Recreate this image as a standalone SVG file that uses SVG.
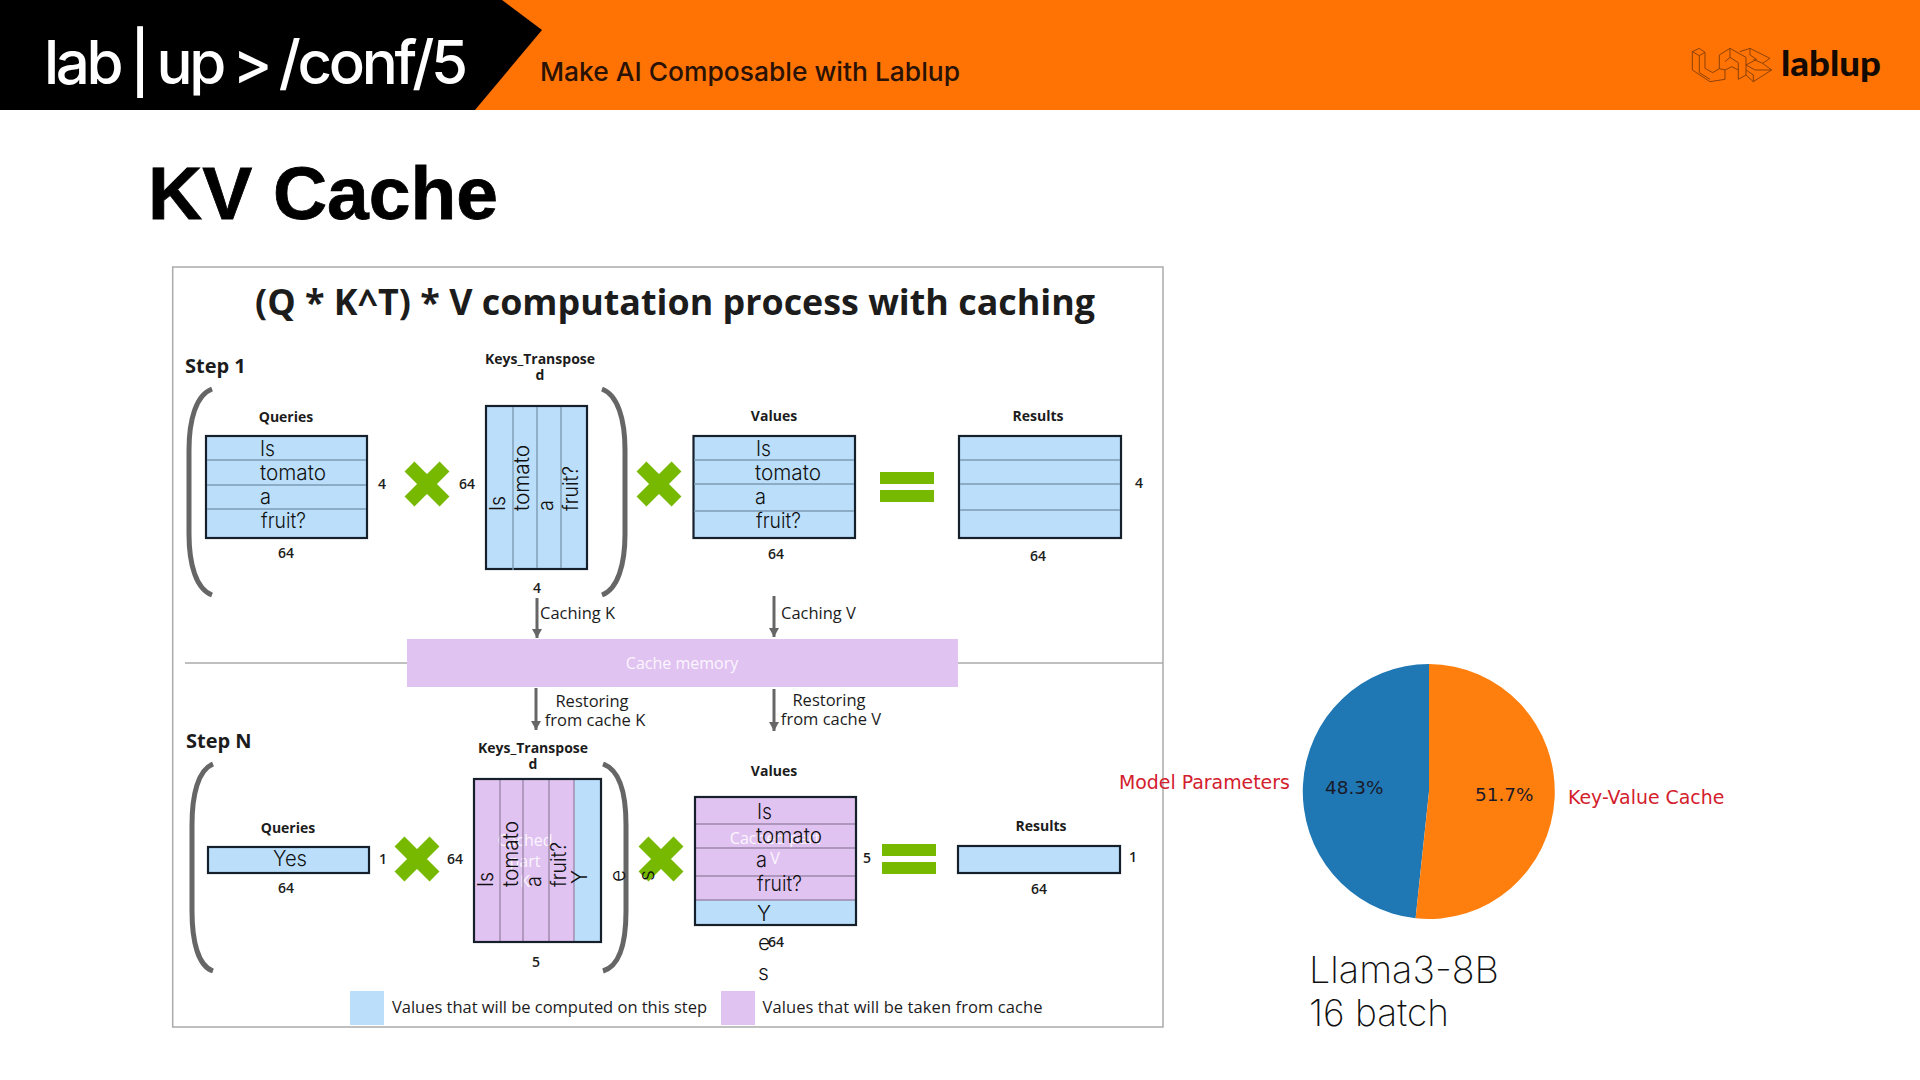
<svg xmlns="http://www.w3.org/2000/svg" width="1920" height="1080" viewBox="0 0 1920 1080">
<style>
text{font-family:"Open Sans","Noto Sans",sans-serif;fill:#1c1c1c}
.h{font-weight:700;font-size:14px;text-anchor:middle}
.d{font-weight:600;font-size:14px;text-anchor:middle}
.l{font-size:16.5px}
.c{font-size:16.5px;text-anchor:middle}
.t{font-family:Inter,"Liberation Sans",sans-serif;font-weight:300;font-size:21px;fill:#111}
.w{font-size:16px;fill:#fbf6fd;text-anchor:middle}
.box{stroke:#15202b;stroke-width:2.2}
.blue{fill:#bbdffb}
.pur{fill:#e1c3f2}
.row{stroke:#7d9bb3;stroke-width:1.4}
.prow{stroke:#9d89ab;stroke-width:1.4}
.br{fill:none;stroke:#666;stroke-width:5}
.eq{fill:#76b900}
.arr{stroke:#666;stroke-width:3;fill:none;marker-end:url(#ah)}
.frame{fill:#fff;stroke:#aaa;stroke-width:1.5}
.rule{stroke:#aaa;stroke-width:1.5}
.pl{font-family:"DejaVu Sans",sans-serif;font-size:18.9px;fill:#d3202c}
.pv{font-family:"DejaVu Sans",sans-serif;font-size:18.4px;fill:#1a1a28}
.big{font-family:Inter,"Liberation Sans",sans-serif;font-weight:200;font-size:37px;fill:#111}
</style>
<defs>
<marker id="ah" markerUnits="userSpaceOnUse" markerWidth="12" markerHeight="10" refX="9" refY="5" orient="auto"><path d="M0 0L9 5L0 10Z" fill="#666"/></marker>
<g id="cross"><path d="M-17.5-17.5L17.5 17.5M-17.5 17.5L17.5-17.5" stroke="#76b900" stroke-width="14" fill="none"/></g>
<g id="eq"><rect class="eq" x="0" y="0" width="54" height="12"/><rect class="eq" x="0" y="18" width="54" height="12"/></g>
</defs>
<rect width="1920" height="1080" fill="#fff"/>

<g id="header">
<rect width="1920" height="110" fill="#ff7204"/>
<path d="M0 0H502L542 30L475 110H0Z" fill="#000"/>
<text x="44" y="84" style="font-family:Inter,'Liberation Sans',sans-serif;font-size:60px;font-weight:500;letter-spacing:-3.4px;word-spacing:-3px;fill:#fff">lab | up &gt; /conf/5</text>
<text x="540" y="81" textLength="420" lengthAdjust="spacingAndGlyphs" style="font-family:Inter,'Liberation Sans',sans-serif;font-size:26px;font-weight:500;fill:#2a1206">Make AI Composable with Lablup</text>
</g>
<g id="logo">
<g transform="translate(1660,20) scale(.3333)" fill="none" stroke="#7c3a08" stroke-width="2.6" stroke-linejoin="round">
<path d="M97 95L118 85L135 97V145L158 158L178 146V105L210 85L258 112V165L235 178V150L215 140L195 150V178L150 185L97 150Z"/>
<path d="M97 95L118 107V158L150 178M118 107L135 97M178 146L195 150M210 85V112L235 128V150M195 125L210 112"/>
<path d="M240 95L270 85L330 115L308 130L335 150L280 185L258 165M270 85V105L290 118L258 135M308 130L280 118M258 135L285 150L335 150M280 185V165L258 150"/>
</g>
<text x="1781" y="76" textLength="100" lengthAdjust="spacingAndGlyphs" style="font-family:Lato,'Noto Sans',sans-serif;font-size:35px;font-weight:900;fill:#140a04">lablup</text>
</g>

<g id="title"><text x="148" y="219" textLength="350" lengthAdjust="spacingAndGlyphs" style="font-family:'Liberation Sans',Arial,sans-serif;font-size:75px;font-weight:700;fill:#000;stroke:#000;stroke-width:.8">KV Cache</text></g>

<g id="figure-frame">
<rect class="frame" x="172.7" y="267" width="990.3" height="760"/>
<text x="675" y="315" text-anchor="middle" textLength="840" lengthAdjust="spacingAndGlyphs" style="font-size:36px;font-weight:700">(Q * K^T) * V computation process with caching</text>
<path class="rule" d="M185 663H407M957 663H1163"/>
</g>

<g id="step1-label"><text x="185" y="373" style="font-size:20px;font-weight:700">Step 1</text></g>
<g id="step1-brackets">
<path class="br" d="M212 389C196 395 189 420 189 450V534C189 564 196 589 212 595"/>
<path class="br" d="M602 389C618 395 625 420 625 450V534C625 564 618 589 602 595"/>
</g>

<g id="queries-1">
<text class="h" x="286" y="422">Queries</text>
<rect class="blue box" x="206" y="436" width="161" height="102"/>
<path class="row" d="M207 460H366M207 485H366M207 509H366"/>
<text class="t" x="260" y="456" textLength="15" lengthAdjust="spacingAndGlyphs">Is</text><text class="t" x="260" y="480" textLength="66" lengthAdjust="spacingAndGlyphs">tomato</text><text class="t" x="260" y="504" textLength="11" lengthAdjust="spacingAndGlyphs">a</text><text class="t" x="261" y="528" textLength="45" lengthAdjust="spacingAndGlyphs">fruit?</text>
<text class="d" x="286" y="558">64</text><text class="d" x="382" y="489">4</text>
</g>
<g id="times-1"><use href="#cross" x="427" y="484"/></g>
<g id="keys-1">
<text class="h" x="540" y="364">Keys_Transpose</text><text class="h" x="540" y="380">d</text>
<text class="d" x="467" y="489">64</text>
<rect class="blue box" x="486" y="406" width="101" height="163"/>
<path class="row" d="M513 407V570M537 407V568M561 407V568"/>
<text class="t" transform="translate(505,511) rotate(-90)" textLength="15" lengthAdjust="spacingAndGlyphs">Is</text>
<text class="t" transform="translate(529,511) rotate(-90)" textLength="66" lengthAdjust="spacingAndGlyphs">tomato</text>
<text class="t" transform="translate(553,511) rotate(-90)" textLength="11" lengthAdjust="spacingAndGlyphs">a</text>
<text class="t" transform="translate(578,511) rotate(-90)" textLength="45" lengthAdjust="spacingAndGlyphs">fruit?</text>
<text class="d" x="537" y="593">4</text>
</g>
<g id="times-2"><use href="#cross" x="659" y="484"/></g>
<g id="values-1">
<text class="h" x="774" y="421">Values</text>
<rect class="blue box" x="693.5" y="436" width="161.5" height="102"/>
<path class="row" d="M694 460H854M694 484H854M694 511H854"/>
<text class="t" x="756" y="456" textLength="15" lengthAdjust="spacingAndGlyphs">Is</text><text class="t" x="755" y="480" textLength="66" lengthAdjust="spacingAndGlyphs">tomato</text><text class="t" x="755" y="504" textLength="11" lengthAdjust="spacingAndGlyphs">a</text><text class="t" x="756" y="528" textLength="45" lengthAdjust="spacingAndGlyphs">fruit?</text>
<text class="d" x="776" y="559">64</text>
</g>
<g id="equals-1"><use href="#eq" x="880" y="472"/></g>
<g id="results-1">
<text class="h" x="1038" y="421">Results</text>
<rect class="blue box" x="959" y="436" width="162" height="102"/>
<path class="row" d="M960 460H1120M960 484H1120M960 510H1120"/>
<text class="d" x="1038" y="561">64</text><text class="d" x="1139" y="488">4</text>
</g>

<g id="cache-memory">
<rect class="pur" x="407" y="639" width="551" height="48"/>
<text class="w" x="682" y="669">Cache memory</text>
</g>

<g id="connectors">
<path class="arr" d="M537 598V638"/>
<path class="arr" d="M774 596V637"/>
<path class="arr" d="M536 688V730"/>
<path class="arr" d="M774 689V731"/>
</g>
<g id="connector-labels">
<text class="l" x="540" y="619">Caching K</text>
<text class="l" x="781" y="619">Caching V</text>
<text class="c" x="592" y="707">Restoring</text><text class="c" x="595" y="726">from cache K</text>
<text class="c" x="829" y="706">Restoring</text><text class="c" x="831" y="725">from cache V</text>
</g>

<g id="stepN-label"><text x="186" y="748" style="font-size:20px;font-weight:700">Step N</text></g>
<g id="stepN-brackets">
<path class="br" d="M213 764C198 770 192 795 192 825V911C192 941 198 966 213 971"/>
<path class="br" d="M603 764C620 770 626 795 626 825V911C626 941 620 966 603 971"/>
</g>
<g id="queries-n">
<text class="h" x="288" y="833">Queries</text>
<rect class="blue box" x="208" y="847" width="161" height="26"/>
<text class="t" x="273" y="866" textLength="34" lengthAdjust="spacingAndGlyphs">Yes</text>
<text class="d" x="286" y="893">64</text><text class="d" x="383" y="864">1</text>
</g>
<g id="times-3"><use href="#cross" x="417" y="859"/></g>
<g id="times-4"><use href="#cross" x="661" y="859"/></g>
<g id="keys-n">
<text class="h" x="533" y="753">Keys_Transpose</text><text class="h" x="533" y="769">d</text>
<text class="d" x="455" y="864">64</text>
<rect class="pur" x="474" y="779" width="100" height="163"/>
<rect class="blue" x="574" y="779" width="27" height="163"/>
<text class="w" x="525" y="846">Cached</text><text class="w" x="525" y="867">part</text><text class="w" x="525" y="887">K</text>
<path class="prow" d="M500 780V941M523 780V941M549 780V941M574 780V941"/>
<rect class="box" fill="none" x="474" y="779" width="127" height="163"/>
<text class="t" transform="translate(493,887) rotate(-90)" textLength="15" lengthAdjust="spacingAndGlyphs">Is</text>
<text class="t" transform="translate(518,887) rotate(-90)" textLength="66" lengthAdjust="spacingAndGlyphs">tomato</text>
<text class="t" transform="translate(541,887) rotate(-90)" textLength="11" lengthAdjust="spacingAndGlyphs">a</text>
<text class="t" transform="translate(566,887) rotate(-90)" textLength="45" lengthAdjust="spacingAndGlyphs">fruit?</text>
<text class="t" transform="translate(587,884) rotate(-90)">Y</text>
<text class="t" transform="translate(625,882) rotate(-90)">e</text>
<text class="t" transform="translate(654,881) rotate(-90)">s</text>
<text class="d" x="536" y="967">5</text>
</g>
<g id="values-n">
<text class="h" x="774" y="776">Values</text>
<rect class="pur" x="695" y="797" width="161" height="103"/>
<rect class="blue" x="695" y="900" width="161" height="25"/>
<text class="w" x="775" y="844">Cached part</text><text class="w" x="775" y="864">V</text>
<path class="prow" d="M696 824H855M696 848H855M696 876H855M696 900H855"/>
<rect class="box" fill="none" x="695" y="797" width="161" height="128"/>
<text class="t" x="757" y="819" textLength="15" lengthAdjust="spacingAndGlyphs">Is</text><text class="t" x="756" y="843" textLength="66" lengthAdjust="spacingAndGlyphs">tomato</text><text class="t" x="756" y="867" textLength="11" lengthAdjust="spacingAndGlyphs">a</text><text class="t" x="757" y="891" textLength="45" lengthAdjust="spacingAndGlyphs">fruit?</text>
<text class="t" x="757" y="921">Y</text><text class="t" x="758" y="950">e</text><text class="t" x="758" y="980">s</text>
<text class="d" x="776" y="947">64</text><text class="d" x="867" y="863">5</text>
</g>
<g id="equals-2"><use href="#eq" x="882" y="844"/></g>
<g id="results-n">
<text class="h" x="1041" y="831">Results</text>
<rect class="blue box" x="958" y="846" width="162" height="27"/>
<text class="d" x="1039" y="894">64</text><text class="d" x="1133" y="862">1</text>
</g>

<g id="legend">
<rect class="blue" x="350" y="991" width="34" height="34"/>
<text x="392" y="1013" textLength="315" style="font-size:16.5px">Values that will be computed on this step</text>
<rect class="pur" x="721" y="991" width="34" height="34"/>
<text x="762.5" y="1013" textLength="280" style="font-size:16.5px">Values that will be taken from cache</text>
</g>

<g id="pie-chart">
<path d="M1429 791.5L1429 664A126 127.5 0 0 0 1415.6 918.3Z" fill="#1f77b4"/>
<path d="M1429 791.5L1429 664A126 127.5 0 1 1 1415.6 918.3Z" fill="#ff7f0e"/>
<text class="pv" x="1325" y="794">48.3%</text>
<text class="pv" x="1475" y="801">51.7%</text>
<text class="pl" x="1119" y="789">Model Parameters</text>
<text class="pl" x="1568" y="804">Key-Value Cache</text>
</g>
<g id="chart-caption">
<text class="big" x="1309" y="983" textLength="190" lengthAdjust="spacingAndGlyphs">Llama3-8B</text>
<text class="big" x="1309" y="1026">16 batch</text>
</g>
</svg>
